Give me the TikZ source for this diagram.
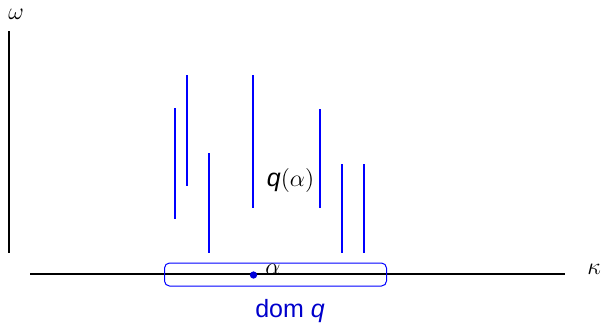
\documentclass[tikz,border=0pt]{standalone}
\usepackage{fontspec}
\setsansfont{Liberation Sans}
\begin{document}
\begin{tikzpicture}[x=0.6pt,y=-0.6pt,
  seg/.style={blue,line width=1.3pt},
  axis/.style={black,line width=0.75pt},
  lbl/.style={inner sep=0pt,anchor=center,font=\fontsize{15}{18}\selectfont}]
\useasboundingbox (0,0) rectangle (602,323);
% axes
\coordinate (vt) at (9,31);
\coordinate (vb) at (9,253);
\coordinate (hl) at (30,274);
\coordinate (hr) at (565,274);
\draw[axis] (vt) -- (vb);
\draw[axis] (hl) -- (hr);
\node[lbl] (omega) at (16,14) {$\omega$};
\node[lbl] (kappa) at (594,269) {$\kappa$};
% intervals
\foreach \n/\x/\a/\b in {1/175/108/219, 2/186.7/75/186, 3/209/153/253, 4/253/75/208, 5/320/109/208, 6/342/164/253, 7/364/164/253}{
  \coordinate (s\n t) at (\x,\a);
  \coordinate (s\n b) at (\x,\b);
  \draw[seg] (s\n t) -- (s\n b);
}
\node[lbl] (qa) at (290.5,180) {\textsf{\itshape q}$(\alpha)$};
% domain box
\node[draw=blue,line width=0.6pt,rounded corners=3pt,minimum width=222*0.6pt,minimum height=23*0.6pt,inner sep=0pt] (dom) at (275.5,274.5) {};
\fill[blue!85!black] (253.5,275) circle (2.2pt);
\node[lbl] (alpha) at (273,269) {$\alpha$};
\node[lbl,text=blue!80!black] (domq) at (290,311) {\sffamily dom \itshape q};
\end{tikzpicture}
\end{document}
